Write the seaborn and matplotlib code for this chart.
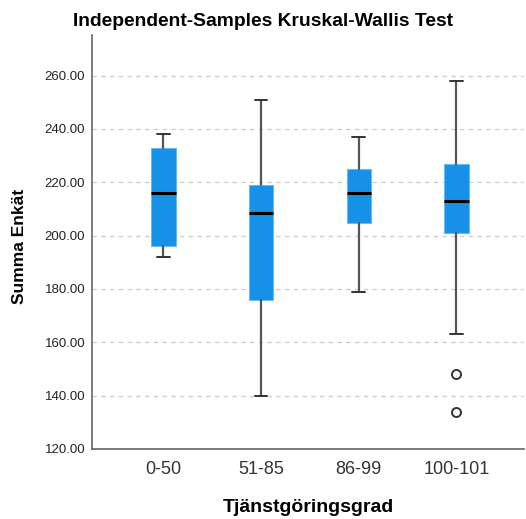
import numpy as np
import seaborn as sns
import matplotlib.pyplot as plt

# five-number summaries
groups = ["0-50", "51-85", "86-99", "100-101"]
whisker_low = [192, 140, 179, 163]
q1 = [196, 176, 204.6, 201]
median = [216, 208.4, 216, 213]
q3 = [233, 219, 225, 227]
whisker_high = [238, 251, 237, 258]
outliers = [[], [], [], [148, 134]]

yticks = [120, 140, 160, 180, 200, 220, 240, 260]

sns.set_style("white")
plt.rcParams['font.family'] = ['Liberation Sans', 'DejaVu Sans']

fig = plt.figure(figsize=(5.26, 5.19), dpi=100)
ax = fig.add_axes([0.175, 0.135, 0.821, 0.7976])

stats = []
for i, g in enumerate(groups):
    stats.append({
        "label": g,
        "whislo": whisker_low[i],
        "q1": q1[i],
        "med": median[i],
        "q3": q3[i],
        "whishi": whisker_high[i],
        "fliers": outliers[i],
    })

ax.bxp(stats, positions=range(len(groups)), widths=0.25, capwidths=0.13,
       patch_artist=True, showfliers=True,
       boxprops=dict(facecolor="#1591e8", edgecolor="#6cb8f2", linewidth=0.8),
       medianprops=dict(color="black", linewidth=2.2),
       whiskerprops=dict(color="#555555", linewidth=1.6),
       capprops=dict(color="#333333", linewidth=1.4),
       flierprops=dict(marker="o", markersize=6.5, markerfacecolor="white",
                       markeredgecolor="#333333", markeredgewidth=1.4))

ax.set_xlim(-0.73, 3.69)
ax.set_ylim(120, 275.2)
ax.set_yticks(yticks)
ax.set_yticklabels([f"{v:.2f}" for v in yticks], fontsize=9.5, color="#222222")
ax.set_xticks(range(len(groups)))
ax.set_xticklabels(groups, fontsize=13, color="#333333")
ax.tick_params(axis="both", length=0)
ax.tick_params(axis="y", pad=5)
ax.tick_params(axis="x", pad=9)

ax.yaxis.grid(True, linestyle=(0, (3.5, 3.5)), color="#cccccc", linewidth=0.9)
ax.set_axisbelow(True)

for s in ["top", "right"]:
    ax.spines[s].set_visible(False)
for s in ["left", "bottom"]:
    ax.spines[s].set_color("#666666")
    ax.spines[s].set_linewidth(1.2)

ax.set_xlabel("Tjänstgöringsgrad", fontsize=14, fontweight="bold", color="black")
ax.xaxis.set_label_coords(0.5, -0.12)
ax.set_ylabel("Summa Enkät", fontsize=12.5, fontweight="bold", color="black")
ax.yaxis.set_label_coords(-0.15, 0.49)

fig.text(0.5, 1 - 21 / 519, "Independent-Samples Kruskal-Wallis Test",
         ha="center", va="center", fontsize=13.9, fontweight="bold", color="black")

fig.savefig("out.png", dpi=100)
